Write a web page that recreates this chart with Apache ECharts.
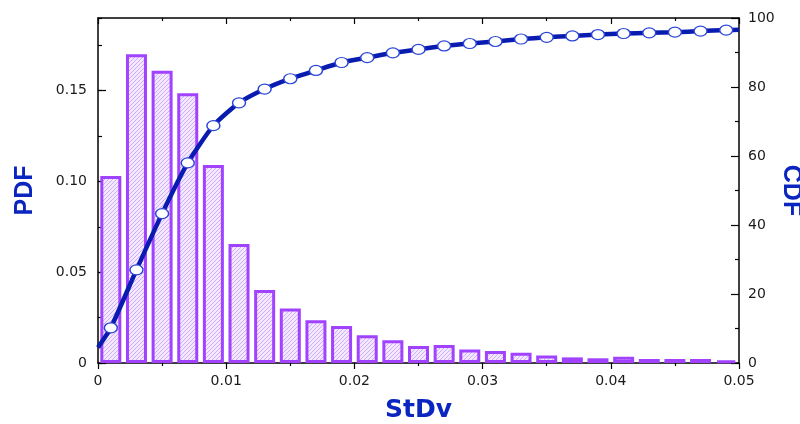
<!DOCTYPE html>
<html>
<head>
<meta charset="utf-8">
<script src="https://cdn.jsdelivr.net/npm/echarts@6/dist/echarts.min.js"></script>
<style>
  html, body { margin: 0; padding: 0; background: #ffffff; }
  #chart { width: 800px; height: 424px; }
</style>
</head>
<body>
<div id="chart"></div>
<script>
// Histogram bins (bin centres, width 0.002) of the standard deviation
const binCenters = [0.001, 0.003, 0.005, 0.007, 0.009, 0.011, 0.013, 0.015, 0.017, 0.019,
                    0.021, 0.023, 0.025, 0.027, 0.029, 0.031, 0.033, 0.035, 0.037, 0.039,
                    0.041, 0.043, 0.045, 0.047, 0.049];
// Probability per bin (left axis)
const pdfValues = [0.103, 0.170, 0.161, 0.1485, 0.109, 0.0656, 0.0402, 0.0300, 0.0236, 0.0204,
                   0.0153, 0.0125, 0.0094, 0.0099, 0.0074, 0.0066, 0.0057, 0.0041, 0.0031, 0.0026,
                   0.0035, 0.0022, 0.0022, 0.0022, 0.0015];
// Cumulative distribution in percent (right axis), one value per bin centre
const cdfValues = [10.2, 27.0, 43.3, 58.0, 68.8, 75.4, 79.4, 82.4, 84.8, 87.1,
                   88.5, 89.9, 90.9, 91.9, 92.6, 93.2, 93.9, 94.4, 94.8, 95.2,
                   95.5, 95.7, 95.9, 96.2, 96.5];
// Curve end points at the axis limits (drawn without a marker)
const cdfStart = [0, 4.5];
const cdfEnd = [0.05, 96.6];

// Axis ranges and tick labels
const xRange = [0, 0.05];
const xTickStep = 0.01;
const pdfRange = [0, 0.19];
const pdfTickStep = 0.05;
const pdfMinorStep = 0.025;
const cdfRange = [0, 100];
const cdfTickStep = 20;
const xTitle = 'StDv';
const pdfTitle = 'PDF';
const cdfTitle = 'CDF';

const AXIS_BLUE = '#0b26c0';
const LINE_BLUE = '#0a1cb0';
const BAR_PURPLE = '#a142ff';

// Diagonal hatch fill for the histogram bars
function hatchPattern() {
  const c = document.createElement('canvas');
  c.width = 4; c.height = 4;
  const g = c.getContext('2d');
  g.fillStyle = '#f3e9ff';
  g.fillRect(0, 0, 4, 4);
  g.strokeStyle = 'rgba(178, 110, 255, 0.5)';
  g.lineWidth = 1;
  g.beginPath(); g.moveTo(-1, 5); g.lineTo(5, -1); g.stroke();
  g.beginPath(); g.moveTo(-1, 1); g.lineTo(1, -1); g.stroke();
  g.beginPath(); g.moveTo(3, 5); g.lineTo(5, 3); g.stroke();
  return c;
}

const labelFont = { fontFamily: 'DejaVu Sans', fontSize: 14, color: '#1a1a1a' };
const frameLine = { show: true, onZero: false, lineStyle: { color: '#000000', width: 1.5 } };
const tickStyle = { color: '#000000', width: 1.2 };

function decimalLabel(v) {
  if (v === 0) return '0';
  return v.toFixed(2);
}

const barData = binCenters.map((x, i) => [x, pdfValues[i]]);
const lineData = [{ value: cdfStart, symbol: 'none' }]
  .concat(binCenters.map((x, i) => ({ value: [x, cdfValues[i]] })))
  .concat([{ value: cdfEnd, symbol: 'none' }]);

const chart = echarts.init(document.getElementById('chart'), null, { renderer: 'canvas' });

chart.setOption({
  backgroundColor: '#ffffff',
  animation: false,
  grid: { left: 98, right: 61, top: 18, bottom: 61, containLabel: false, outerBoundsMode: 'none' },
  xAxis: [
    {
      type: 'value', position: 'bottom',
      min: xRange[0], max: xRange[1], interval: xTickStep,
      axisLine: frameLine,
      axisTick: { show: true, inside: false, length: 6, lineStyle: tickStyle },
      minorTick: { show: true, splitNumber: 2, length: 3, lineStyle: tickStyle },
      splitLine: { show: false },
      axisLabel: Object.assign({ margin: 11, formatter: decimalLabel }, labelFont),
      name: xTitle, nameLocation: 'middle', nameGap: 35,
      nameTextStyle: { fontFamily: 'DejaVu Sans', fontWeight: 'bold', fontSize: 25, color: AXIS_BLUE }
    },
    {
      type: 'value', position: 'top',
      min: xRange[0], max: xRange[1], interval: xTickStep,
      axisLine: frameLine,
      axisTick: { show: true, inside: true, length: 6, lineStyle: tickStyle },
      minorTick: { show: true, splitNumber: 2, length: 3, lineStyle: tickStyle },
      splitLine: { show: false },
      axisLabel: { show: false }
    }
  ],
  yAxis: [
    {
      type: 'value', position: 'left',
      min: pdfRange[0], max: pdfRange[1], interval: pdfTickStep,
      axisLine: frameLine,
      axisTick: { show: true, inside: true, length: 8, lineStyle: tickStyle },
      splitLine: { show: false },
      axisLabel: Object.assign({ margin: 11, formatter: decimalLabel, showMaxLabel: false }, labelFont),
      name: pdfTitle, nameLocation: 'middle', nameGap: 60, nameRotate: 90,
      nameTextStyle: { fontFamily: 'Liberation Sans', fontWeight: 'bold', fontSize: 25, color: AXIS_BLUE }
    },
    {
      type: 'value', position: 'right',
      min: cdfRange[0], max: cdfRange[1], interval: cdfTickStep,
      axisLine: frameLine,
      axisTick: { show: true, inside: true, length: 8, lineStyle: tickStyle },
      minorTick: { show: true, splitNumber: 2, length: 4, lineStyle: tickStyle },
      splitLine: { show: false },
      axisLabel: Object.assign({ margin: 9 }, labelFont),
      name: cdfTitle, nameLocation: 'middle', nameGap: 39, nameRotate: -90,
      nameMoveOverlap: false,
      nameTextStyle: { fontFamily: 'Liberation Sans', fontWeight: 'bold', fontSize: 25, color: AXIS_BLUE }
    },
    {
      // minor ticks of the PDF axis
      type: 'value', position: 'left',
      min: pdfRange[0], max: pdfRange[1], interval: pdfMinorStep,
      axisLine: { show: false, onZero: false },
      axisTick: { show: true, inside: true, length: 4, lineStyle: tickStyle },
      splitLine: { show: false },
      axisLabel: { show: false }
    }
  ],
  series: [
    {
      type: 'bar',
      xAxisIndex: 0, yAxisIndex: 0,
      data: barData,
      barWidth: 21,
      itemStyle: {
        color: { image: hatchPattern(), repeat: 'repeat' },
        borderColor: BAR_PURPLE,
        borderWidth: 3
      },
      emphasis: { disabled: true },
      z: 2
    },
    {
      type: 'line',
      xAxisIndex: 0, yAxisIndex: 1,
      data: lineData,
      smooth: 0.2,
      lineStyle: { color: LINE_BLUE, width: 4.5 },
      symbol: 'path://M0,50A50,50 0 1,1 100,50A50,50 0 1,1 0,50Z',
      symbolSize: [13, 10],
      itemStyle: { color: '#ffffff', borderColor: '#2a45d6', borderWidth: 1.3 },
      emphasis: { disabled: true },
      z: 5
    }
  ]
});
</script>
</body>
</html>
